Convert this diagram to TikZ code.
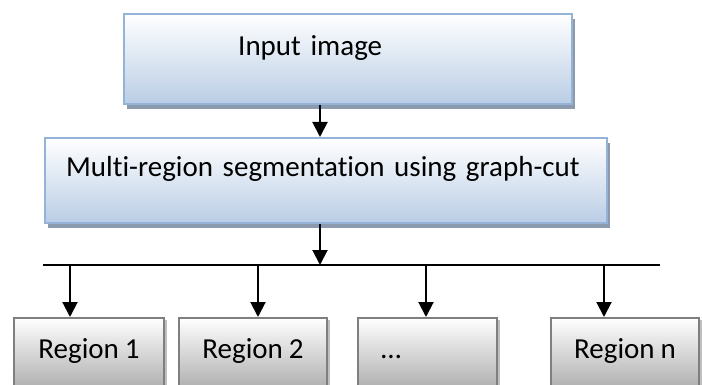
\documentclass[tikz,border=0pt]{standalone}
\usepackage{fontspec}
\setmainfont{Carlito}[Ligatures=NoCommon, WordSpace=0.9]
\usetikzlibrary{arrows.meta,shadows}

\definecolor{boxline}{HTML}{95B3D7}
\definecolor{boxfill}{HTML}{B9CDE5}
\definecolor{boxshadow}{HTML}{8C9AAE}
\definecolor{regline}{HTML}{7F7F7F}
\definecolor{regfill}{HTML}{A6A6A6}
\definecolor{regshadow}{HTML}{BFBFBF}

\tikzset{
    stagebox/.style={draw=boxline, line width=1.2pt, top color=white, bottom color=boxfill,
        drop shadow={shadow xshift=1.5pt, shadow yshift=-2.5pt, fill=boxshadow, opacity=1},
        anchor=north west, inner ysep=0pt, align=left},
    regionbox/.style={draw=regline, line width=1pt, top color=white, bottom color=regfill,
        drop shadow={shadow xshift=1.5pt, shadow yshift=-1pt, fill=regshadow, opacity=1},
        anchor=north west, inner ysep=0pt, text height=20pt, text depth=19pt},
    flow/.style={-{Triangle[length=7.5pt,width=7.5pt]}, line width=1pt}
}

\begin{document}
\begin{tikzpicture}[x=1pt, y=-1pt, font=\fontsize{14.5}{17}\selectfont]
    % Frame
    \useasboundingbox (0,0) rectangle (351,192.5);
    \clip (0,0) rectangle (351,192.5);

    % Stages
    \node[stagebox, inner xsep=57pt, text width=110pt, text height=20.5pt, text depth=24.5pt]
        (input) at (61.5,6.5) {Input image};
    \node[stagebox, inner xsep=10.5pt, text width=260pt, text height=19pt, text depth=23.5pt]
        (seg) at (22,68.5) {Multi-region segmentation using graph-cut};

    % Bus
    \coordinate (tap) at (160,132.5);
    \coordinate (busL) at (21.5,132.5);
    \coordinate (busR) at (330,132.5);
    \draw[line width=1pt] (busL) -- (busR);

    % Regions
    \node[regionbox, minimum width=75pt] (r1) at (6.5,158.5) {Region 1};
    \node[regionbox, minimum width=74pt] (r2) at (89,158.5) {Region 2};
    \node[regionbox, inner xsep=11.5pt, text width=46.5pt, align=left] (r3) at (178.5,158.5) {…};
    \node[regionbox, minimum width=74pt] (r4) at (275,158.5) {Region n};

    % Arrows
    \draw[flow] (input.south -| tap) -- (seg.north -| tap);
    \draw[flow] (seg.south -| tap) -- (tap);
    \coordinate (b1) at (35,132.5);
    \coordinate (b2) at (129,132.5);
    \coordinate (b3) at (213,132.5);
    \coordinate (b4) at (302,132.5);
    \draw[flow] (b1) -- (b1 |- r1.north);
    \draw[flow] (b2) -- (b2 |- r2.north);
    \draw[flow] (b3) -- (b3 |- r3.north);
    \draw[flow] (b4) -- (b4 |- r4.north);
\end{tikzpicture}
\end{document}
